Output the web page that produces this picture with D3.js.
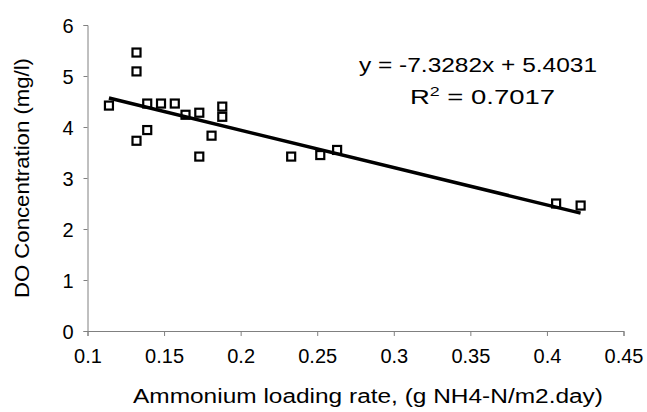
<!DOCTYPE html>
<html lang="en">
<head>
<meta charset="UTF-8">
<title>DO vs ammonium loading rate</title>
<script src="https://d3js.org/d3.v7.min.js"></script>
<style>
    body { margin: 0; background: #fff; }
    svg text { font-family: 'Liberation Sans', Arial, sans-serif; fill: #000; }
</style>
</head>
<body>
<div id="chart"></div>
<script>
    // values
    const loadingRate = [0.114, 0.132, 0.132, 0.132, 0.139, 0.139, 0.148, 0.157, 0.164, 0.173,
                         0.173, 0.181, 0.188, 0.188, 0.233, 0.252, 0.263, 0.406, 0.422];
    const doConc = [4.42, 5.46, 5.09, 3.73, 4.46, 3.94, 4.46, 4.46, 4.24, 4.28,
                    3.42, 3.83, 4.40, 4.20, 3.42, 3.45, 3.55, 2.50, 2.46];
    const xTicks = [0.1, 0.15, 0.2, 0.25, 0.3, 0.35, 0.4, 0.45];
    const yTicks = [0, 1, 2, 3, 4, 5, 6];
    const slope = -7.3282, intercept = 5.4031, rSquared = "0.7017";

    const width = 647, height = 412;
    const x = d3.scaleLinear().domain([0.1, 0.45]).range([87.5, 623.5]);
    const y = d3.scaleLinear().domain([0, 6]).range([331, 25]);

    const svg = d3.select("#chart").append("svg")
        .attr("width", width)
        .attr("height", height);

    const xAxis = svg.append("g")
        .attr("transform", `translate(0,${y(0)})`)
        .call(d3.axisBottom(x).tickValues(xTicks).tickSize(5).tickPadding(13)
            .tickFormat(d => String(+d.toFixed(2))));
    const yAxis = svg.append("g")
        .attr("transform", `translate(${x(0.1)},0)`)
        .call(d3.axisLeft(y).tickValues(yTicks).tickSize(4).tickPadding(10)
            .tickFormat(d3.format("d")));

    [xAxis, yAxis].forEach(g => {
        g.select(".domain").attr("stroke", "#808080");
        g.selectAll(".tick line").attr("stroke", "#808080");
        g.selectAll(".tick text").attr("font-size", 20).attr("fill", "#000")
            .style("font-family", "'Liberation Sans', Arial, sans-serif");
    });
    yAxis.selectAll(".tick text").attr("dy", "0.36em");

    // points
    const pts = loadingRate.map((v, i) => ({ x: v, y: doConc[i] }));
    svg.append("g").selectAll("rect")
        .data(pts)
        .join("rect")
        .attr("x", d => x(d.x) - 4)
        .attr("y", d => y(d.y) - 4)
        .attr("width", 8)
        .attr("height", 8)
        .attr("fill", "#fff")
        .attr("stroke", "#000")
        .attr("stroke-width", 2.2);

    // linear trendline
    const [x0, x1] = d3.extent(loadingRate);
    svg.append("line")
        .attr("x1", x(x0)).attr("y1", y(slope * x0 + intercept))
        .attr("x2", x(x1)).attr("y2", y(slope * x1 + intercept))
        .attr("stroke", "#000")
        .attr("stroke-width", 3.5);

    // equation
    svg.append("text")
        .attr("x", 359).attr("y", 72)
        .attr("font-size", 20)
        .attr("textLength", 238).attr("lengthAdjust", "spacingAndGlyphs")
        .text(`y = ${slope}x + ${intercept}`);
    const r2 = svg.append("text")
        .attr("x", 410).attr("y", 104)
        .attr("font-size", 20)
        .attr("textLength", 145).attr("lengthAdjust", "spacingAndGlyphs");
    r2.append("tspan").text("R");
    r2.append("tspan").attr("font-size", 13).attr("dy", -8).text("2");
    r2.append("tspan").attr("dy", 8).text(` = ${rSquared}`);

    // axis titles
    svg.append("text")
        .attr("x", 368).attr("y", 403)
        .attr("text-anchor", "middle")
        .attr("font-size", 20)
        .attr("textLength", 470).attr("lengthAdjust", "spacingAndGlyphs")
        .text("Ammonium loading rate, (g NH4-N/m2.day)");
    svg.append("text")
        .attr("transform", "translate(29,178) rotate(-90)")
        .attr("text-anchor", "middle")
        .attr("font-size", 20)
        .attr("textLength", 240).attr("lengthAdjust", "spacingAndGlyphs")
        .text("DO Concentration (mg/l)");
</script>
</body>
</html>
